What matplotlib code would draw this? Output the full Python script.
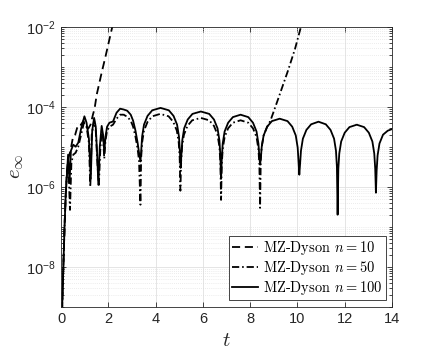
import numpy as np
import matplotlib
matplotlib.use("Agg")
import matplotlib.pyplot as plt
from matplotlib.ticker import LogLocator, NullFormatter, FixedLocator

# ---------------- data (values are log10 of e_inf) ----------------
t_n10 = [0.00, 0.05, 0.10, 0.15, 0.20, 0.25, 0.31, 0.40, 0.51, 0.60, 0.72, 0.85, 0.95,
         1.05, 1.15, 1.25, 1.35, 1.42, 1.51, 1.70, 1.90, 2.17, 2.30]
log_e_n10 = [-9.8, -9.0, -8.0, -7.0, -6.2, -5.6, -5.3, -5.1, -4.75, -4.7, -4.45, -4.45, -4.35,
             -4.5, -4.55, -4.45, -4.2, -4.05, -3.7, -3.2, -2.7, -2.0, -1.7]

t_n50 = [0.00, 0.05, 0.10, 0.15, 0.20, 0.26, 0.32, 0.38, 0.44, 0.52, 0.62, 0.73, 0.85, 0.97,
         1.08, 1.18, 1.24, 1.30, 1.40, 1.47, 1.53, 1.60, 1.66, 1.72, 1.78, 1.83, 1.88, 1.95,
         2.05, 2.20, 2.35, 2.50, 2.65, 2.80, 2.95, 3.05, 3.15, 3.24, 3.30, 3.36,
         3.39, 3.43, 3.51, 3.66, 3.86, 4.20, 4.55, 4.75, 4.90, 4.98, 5.02, 5.05,
         5.08, 5.12, 5.20, 5.35, 5.55, 5.91, 6.27, 6.47, 6.62, 6.70, 6.74, 6.77,
         6.80, 6.84, 6.92, 7.07, 7.27, 7.595, 7.92, 8.12, 8.27, 8.35, 8.39, 8.42,
         8.45, 8.49, 8.57, 8.72, 8.80, 8.90, 9.20, 9.60, 9.90, 10.15, 10.40]
log_e_n50 = [-9.8, -9.0, -8.0, -7.0, -6.2, -5.6, -5.6, -6.58, -5.4, -5.2, -5.15, -5.0, -4.7, -4.4,
             -4.5, -4.9, -6.0, -4.7, -4.35, -4.6, -5.3, -6.0, -5.1, -4.6, -4.8, -5.3, -4.85, -4.6,
             -4.5, -4.45, -4.3, -4.2, -4.2, -4.25, -4.35, -4.5, -4.75, -5.05, -5.35, -6.45,
             -5.28, -4.9, -4.6, -4.38, -4.24, -4.18, -4.24, -4.38, -4.6, -4.9, -5.28, -6.1,
             -5.38, -5.0, -4.7, -4.48, -4.34, -4.28, -4.34, -4.48, -4.7, -5.0, -5.38, -6.33,
             -5.44, -5.06, -4.76, -4.54, -4.4, -4.34, -4.4, -4.54, -4.76, -5.06, -5.44, -6.53,
             -5.3, -5.0, -4.72, -4.5, -4.42, -4.28, -3.78, -3.1, -2.55, -2.0, -1.45]

t_n100 = [0.00, 0.05, 0.10, 0.15, 0.20, 0.25, 0.30, 0.36, 0.42, 0.52, 0.62, 0.73, 0.85, 0.99,
          1.08, 1.18, 1.26, 1.32, 1.40, 1.47, 1.53, 1.58, 1.64, 1.72, 1.78, 1.83, 1.88, 1.95,
          2.05, 2.20, 2.35, 2.50, 2.65, 2.80, 2.95, 3.05, 3.15, 3.24, 3.30, 3.36,
          3.39, 3.43, 3.51, 3.66, 3.86, 4.21, 4.56, 4.76, 4.91, 4.99, 5.03, 5.06,
          5.09, 5.13, 5.21, 5.36, 5.56, 5.915, 6.27, 6.47, 6.62, 6.70, 6.74, 6.77,
          6.80, 6.84, 6.92, 7.07, 7.27, 7.595, 7.92, 8.12, 8.27, 8.35, 8.39, 8.42,
          8.45, 8.49, 8.57, 8.72, 8.92, 9.25, 9.58, 9.78, 9.93, 10.01, 10.05, 10.08,
          10.11, 10.15, 10.23, 10.38, 10.58, 10.89, 11.20, 11.40, 11.55, 11.63, 11.67, 11.70,
          11.73, 11.77, 11.85, 12.00, 12.20, 12.51, 12.82, 13.02, 13.17, 13.25, 13.29, 13.32,
          13.35, 13.39, 13.47, 13.62, 13.82, 14.00, 14.15]
log_e_n100 = [-9.8, -9.0, -8.0, -7.0, -6.2, -5.7, -5.2, -5.9, -5.1, -4.95, -5.0, -4.9, -4.55, -4.24,
              -4.4, -4.8, -5.8, -4.6, -4.28, -4.5, -5.2, -5.95, -5.0, -4.48, -4.7, -5.15, -4.75, -4.5,
              -4.4, -4.37, -4.15, -4.05, -4.07, -4.1, -4.2, -4.35, -4.6, -4.9, -5.15, -5.37,
              -5.13, -4.75, -4.45, -4.23, -4.09, -4.03, -4.09, -4.23, -4.45, -4.75, -5.13, -5.53,
              -5.22, -4.84, -4.54, -4.32, -4.18, -4.12, -4.18, -4.32, -4.54, -4.84, -5.22, -5.8,
              -5.3, -4.92, -4.62, -4.4, -4.26, -4.2, -4.26, -4.4, -4.62, -4.92, -5.25, -5.45,
              -5.3, -5.0, -4.72, -4.5, -4.36, -4.3, -4.36, -4.5, -4.72, -5.02, -5.4, -5.7,
              -5.45, -5.1, -4.8, -4.58, -4.44, -4.375, -4.44, -4.58, -4.8, -5.1, -5.5, -6.7,
              -5.55, -5.17, -4.87, -4.65, -4.51, -4.45, -4.51, -4.65, -4.87, -5.17, -5.55, -6.15,
              -5.6, -5.22, -4.92, -4.7, -4.6, -4.56, -4.53]

labels = [r'MZ-Dyson $n=10$', r'MZ-Dyson $n=50$', r'MZ-Dyson $n=100$']
x_ticks = [0, 2, 4, 6, 8, 10, 12, 14]
y_ticks = [1e-8, 1e-6, 1e-4, 1e-2]
y_ticklabels = [r'$\mathdefault{10^{-8}}$', r'$\mathdefault{10^{-6}}$',
                r'$\mathdefault{10^{-4}}$', r'$\mathdefault{10^{-2}}$']

# ---------------- figure ----------------
plt.rcParams['mathtext.fontset'] = 'cm'
ink = '#262626'

fig = plt.figure(figsize=(4.34, 3.54), dpi=100)
ax = fig.add_axes([61 / 434, 1 - 306.7 / 354, 331 / 434, 280 / 354])

lw = 1.3
ax.plot(t_n10, 10.0 ** np.array(log_e_n10), color='black', lw=lw, dashes=(4.5, 2.6),
        label=labels[0])
ax.plot(t_n50, 10.0 ** np.array(log_e_n50), color='black', lw=lw, dashes=(4.0, 1.6, 0.9, 1.6),
        label=labels[1])
ax.plot(t_n100, 10.0 ** np.array(log_e_n100), color='black', lw=lw, ls='-',
        label=labels[2])

ax.set_yscale('log')
ax.set_xlim(0, 14)
ax.set_ylim(1e-9, 1e-2)

ax.xaxis.set_major_locator(FixedLocator(x_ticks))
ax.set_yticks(y_ticks)
ax.set_yticklabels(y_ticklabels)
ax.yaxis.set_minor_locator(LogLocator(base=10, subs=np.arange(1, 10), numticks=60))
ax.yaxis.set_minor_formatter(NullFormatter())

ax.tick_params(which='both', direction='in', top=True, right=True, colors=ink,
               labelfontfamily='Liberation Sans', labelsize=10.5, width=0.6)
ax.tick_params(which='major', length=3.5, pad=4)
ax.tick_params(which='minor', length=2)
for s in ax.spines.values():
    s.set_color(ink)
    s.set_linewidth(0.6)

ax.grid(which='major', color='#e0e0e0', lw=0.6, ls='-')
ax.grid(which='minor', axis='y', color='#dadada', lw=0.5, ls=(0, (1, 2)))
ax.set_axisbelow(True)

ax.set_xlabel(r'$t$', fontsize=15, color=ink)
ax.set_ylabel(r'$e_\infty$', fontsize=15, color=ink)
ax.xaxis.set_label_coords(0.5, -0.085)
ax.yaxis.set_label_coords(-0.105, 0.5)

leg = ax.legend(loc='lower right', prop={'family': 'cmr10', 'size': 10.4, 'math_fontfamily': 'cm'},
                fancybox=False, framealpha=1, edgecolor=ink, handlelength=1.75,
                handletextpad=0.35, borderpad=0.25, labelspacing=0.12, borderaxespad=0.45)
leg.get_frame().set_linewidth(0.6)

fig.savefig('out.png', dpi=100)
